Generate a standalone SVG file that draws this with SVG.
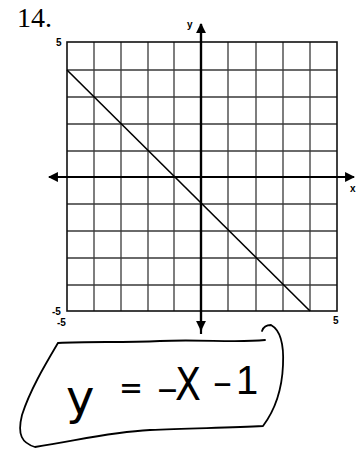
<svg xmlns="http://www.w3.org/2000/svg" width="361" height="455" viewBox="0 0 361 455">
<style>
.grid{stroke:#3a3a3a;stroke-width:1.3;fill:none}
.border{stroke:#111;stroke-width:1.6;fill:none}
.axis{stroke:#000;stroke-width:2.2;fill:none}
.plot{stroke:#000;stroke-width:1.6;fill:none}
.lbl{font-family:"Liberation Sans",Arial,sans-serif;font-weight:bold;font-size:10px;fill:#000}
.hand{font-family:"DejaVu Sans","Liberation Sans",sans-serif;fill:#000}
.loop{stroke:#000;stroke-width:1.8;fill:none;stroke-linecap:round;stroke-linejoin:round}
</style>
<defs>
<marker id="ah" viewBox="0 0 10 10" refX="9" refY="5" markerWidth="4.5" markerHeight="4.5" orient="auto" markerUnits="strokeWidth">
<path d="M0,0 L10,5 L0,10 z" fill="#000"/>
</marker>
</defs>
<rect width="361" height="455" fill="#fff"/>
<text x="17" y="27" font-family="Liberation Serif,'Times New Roman',serif" font-size="28" fill="#000">14.</text>
<g id="grid">
<path class="grid" d="M94,42V311M121,42V311M148,42V311M174,42V311M228,42V311M256,42V311M283,42V311M310,42V311M67,70H337M67,97H337M67,124H337M67,151H337M67,204H337M67,231H337M67,258H337M67,285H337"/>
<rect class="border" x="67" y="42" width="270" height="269"/>
</g>
<g id="connectors">
<line class="axis" x1="201" y1="334" x2="201" y2="24" marker-end="url(#ah)"/>
<line class="axis" x1="201" y1="24" x2="201" y2="330" marker-end="url(#ah)"/>
<line class="axis" x1="58" y1="177" x2="354" y2="177" marker-end="url(#ah)"/>
<line class="axis" x1="350" y1="177" x2="49" y2="177" marker-end="url(#ah)"/>
<line class="plot" x1="67" y1="70" x2="310" y2="311"/>
</g>
<g id="labels">
<text class="lbl" x="187" y="28" font-size="11">y</text>
<text class="lbl" x="350" y="192" font-size="9">x</text>
<text class="lbl" x="56" y="46">5</text>
<text class="lbl" x="52" y="315">-5</text>
<text class="lbl" x="57" y="326">-5</text>
<text class="lbl" x="333" y="324">5</text>
</g>
<g id="answer">
<path class="loop" d="M58,343 C90,341 120,343 160,341 C200,339 235,343 265,340 M58,343 C45,365 30,390 22,415 C17,435 22,443 35,447 C80,440 110,432 150,430 C190,428 230,428 263,426 C275,410 282,390 283,365 C284,345 280,330 271,325 C266,325 263,328 262,331"/>
<text class="hand" x="66" y="414" font-size="48">y</text>
<text class="hand" x="119" y="399" font-size="32" textLength="24" lengthAdjust="spacingAndGlyphs">=</text>
<text class="hand" x="156" y="400" font-size="34" textLength="23" lengthAdjust="spacingAndGlyphs">-</text>
<text class="hand" x="175" y="400" font-size="44" textLength="26" lengthAdjust="spacingAndGlyphs">X</text>
<text class="hand" x="212" y="394" font-size="34" textLength="21" lengthAdjust="spacingAndGlyphs">-</text>
<text x="236" y="394" font-family="Liberation Sans,Arial,sans-serif" font-size="40" fill="#000">1</text>
</g>
</svg>
